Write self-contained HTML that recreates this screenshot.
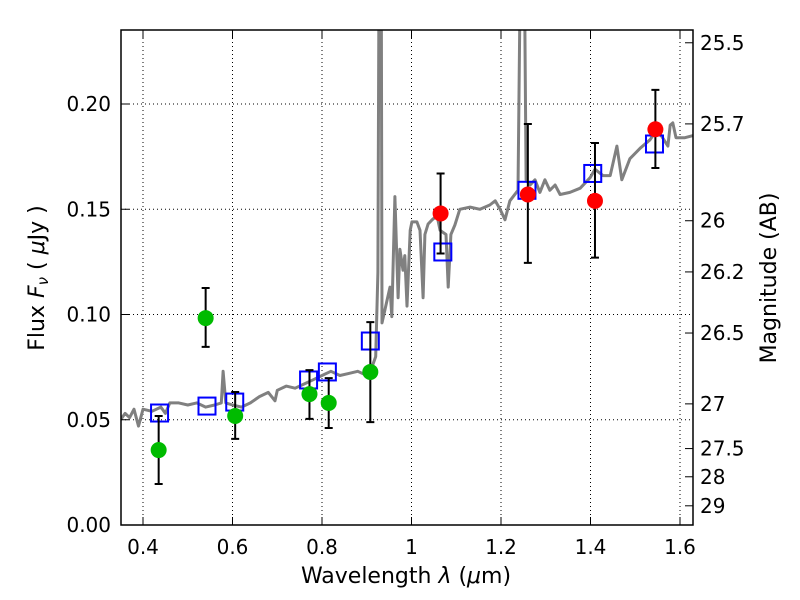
<!DOCTYPE html>
<html><head><meta charset="utf-8"><style>
body{margin:0;background:#fff;}
svg{display:block;font-family:"DejaVu Sans","Liberation Sans",sans-serif;}
</style></head><body>
<svg id="chart" width="800" height="600">
<defs><clipPath id="clip"><rect x="121" y="30" width="572" height="495"/></clipPath></defs>
<g id="grid"></g>
<g id="spec" clip-path="url(#clip)"></g>
<g id="marks" clip-path="url(#clip)"></g>
<rect x="121" y="30" width="572" height="495" fill="none" stroke="#000" stroke-width="1.5"/>
<g id="axes"></g>
<text x="406" y="583" font-size="22" text-anchor="middle">Wavelength  <tspan font-style="italic">λ</tspan> (<tspan font-style="italic">μ</tspan>m)</text>
<text transform="translate(44,278) rotate(-90)" font-size="22" text-anchor="middle">Flux  <tspan font-style="italic">F<tspan font-size="15" dy="4">ν</tspan></tspan><tspan dy="-4">  ( </tspan><tspan font-style="italic">μ</tspan>Jy )</text>
<text transform="translate(776,278) rotate(-90)" font-size="22" text-anchor="middle">Magnitude (AB)</text>
</svg>
<script>
const specLam=[0.35,0.36,0.37,0.38,0.39,0.40,0.42,0.44,0.45,0.46,0.48,0.50,0.52,0.54,0.56,0.575,0.579,0.585,0.60,0.62,0.64,0.66,0.68,0.695,0.70,0.72,0.74,0.76,0.78,0.80,0.82,0.84,0.86,0.88,0.90,0.91,0.92,0.925,0.928,0.932,0.934,0.952,0.956,0.963,0.970,0.974,0.981,0.985,0.990,0.997,1.001,1.012,1.019,1.026,1.030,1.037,1.046,1.057,1.064,1.077,1.082,1.088,1.097,1.108,1.131,1.153,1.175,1.187,1.198,1.209,1.220,1.238,1.245,1.251,1.256,1.265,1.276,1.287,1.298,1.309,1.321,1.332,1.354,1.377,1.399,1.410,1.428,1.444,1.459,1.470,1.488,1.511,1.533,1.549,1.573,1.578,1.584,1.591,1.611,1.629];
const specFlux=[0.050,0.053,0.051,0.055,0.047,0.055,0.054,0.056,0.053,0.058,0.058,0.057,0.058,0.056,0.057,0.058,0.073,0.058,0.057,0.056,0.058,0.061,0.063,0.059,0.064,0.066,0.065,0.067,0.069,0.071,0.073,0.071,0.072,0.073,0.071,0.074,0.080,0.12,0.30,0.30,0.096,0.113,0.099,0.156,0.108,0.131,0.121,0.128,0.104,0.140,0.144,0.144,0.140,0.108,0.138,0.143,0.145,0.147,0.140,0.138,0.113,0.138,0.1425,0.150,0.151,0.150,0.152,0.154,0.150,0.145,0.154,0.159,0.30,0.30,0.164,0.1615,0.164,0.158,0.164,0.159,0.1615,0.157,0.158,0.160,0.165,0.169,0.166,0.166,0.180,0.164,0.174,0.179,0.183,0.188,0.180,0.190,0.191,0.184,0.184,0.185];
const greenLam=[0.435,0.54,0.606,0.772,0.815,0.908];
const greenFlux=[0.0356,0.0983,0.0518,0.0622,0.058,0.0727];
const greenHi=[0.0518,0.1126,0.0632,0.0736,0.0698,0.0964];
const greenLo=[0.0195,0.0846,0.0409,0.0504,0.0461,0.0489];
const redLam=[1.065,1.26,1.41,1.545];
const redFlux=[0.148,0.157,0.154,0.188];
const redHi=[0.167,0.1905,0.1815,0.2067];
const redLo=[0.129,0.1245,0.127,0.1696];
const modelLam=[0.437,0.543,0.605,0.77,0.812,0.908,1.07,1.258,1.405,1.543];
const modelFlux=[0.0532,0.0565,0.0584,0.0689,0.0727,0.0874,0.1297,0.159,0.167,0.181];
const xTicks=[0.4,0.6,0.8,1.0,1.2,1.4,1.6];
const xTickLabels=["0.4","0.6","0.8","1","1.2","1.4","1.6"];
const yTicks=[0,0.05,0.10,0.15,0.20];
const yTickLabels=["0.00","0.05","0.10","0.15","0.20"];
const magTicks=[25.5,25.7,26,26.2,26.5,27,27.5,28,29];
const magLabels=["25.5","25.7","26","26.2","26.5","27","27.5","28","29"];

const X=v=>143+(v-0.4)*447.5;
const Y=v=>525-v*2105;
const NS="http://www.w3.org/2000/svg";
function mk(tag,attrs,parent){const e=document.createElementNS(NS,tag);for(const k in attrs)e.setAttribute(k,attrs[k]);parent.appendChild(e);return e;}
const grid=document.getElementById('grid'),axes=document.getElementById('axes'),spec=document.getElementById('spec'),marks=document.getElementById('marks');

xTicks.forEach((t,i)=>{
  const x=X(t);
  let g=mk('line',{x1:x,x2:x,y1:30,y2:525,stroke:'#000','stroke-width':1,'stroke-dasharray':'1,3'},grid);
  
  
  let tk=mk('line',{x1:x,x2:x,y1:525,y2:517,stroke:'#000','stroke-width':1},axes);
  
  
  let tk2=mk('line',{x1:x,x2:x,y1:30,y2:38,stroke:'#000','stroke-width':1},axes);
  
  
  let l=mk('text',{x:x,y:554,'font-size':20,'text-anchor':'middle'},axes);
  l.textContent=xTickLabels[i];
  
  
});
yTicks.forEach((t,i)=>{
  const y=Y(t);
  if(t>0){let g=mk('line',{x1:121,x2:693,y1:y,y2:y,stroke:'#000','stroke-width':1,'stroke-dasharray':'1,3'},grid);
  
  }
  let tk=mk('line',{x1:121,x2:129,y1:y,y2:y,stroke:'#000','stroke-width':1},axes);
  
  
  let l=mk('text',{x:111,y:y+7,'font-size':20,'text-anchor':'end'},axes);
  l.textContent=yTickLabels[i];
  
  
});
magTicks.forEach((m,i)=>{
  const y=Y(Math.pow(10,(23.9-m)/2.5));
  let tk=mk('line',{x1:685,x2:693,y1:y,y2:y,stroke:'#000','stroke-width':1},axes);
  
  
  let l=mk('text',{x:700,y:y+7,'font-size':20},axes);
  l.textContent=magLabels[i];
  
  
});

let d=specLam.map((v,i)=>(i?'L':'M')+X(v).toFixed(1)+','+Y(specFlux[i]).toFixed(1)).join(' ');
let sp=mk('path',{d:d,fill:'none',stroke:'#808080','stroke-width':3,'stroke-linejoin':'round'},spec);



function errbar(lam,lo,hi){
  const x=X(lam);
  let e=mk('path',{d:`M${x},${Y(lo)}V${Y(hi)}M${x-4},${Y(lo)}h8M${x-4},${Y(hi)}h8`,stroke:'#000','stroke-width':2,fill:'none'},marks);
  
  
}
modelLam.forEach((v,i)=>{
  let r=mk('rect',{x:X(v)-8.5,y:Y(modelFlux[i])-8.5,width:17,height:17,fill:'none',stroke:'#0000ff','stroke-width':2},marks);
  
  
});
greenLam.forEach((v,i)=>{
  errbar(v,greenLo[i],greenHi[i]);
  let c=mk('circle',{cx:X(v),cy:Y(greenFlux[i]),r:8,fill:'#00bb00'},marks);
  
  
});
redLam.forEach((v,i)=>{
  errbar(v,redLo[i],redHi[i]);
  let c=mk('circle',{cx:X(v),cy:Y(redFlux[i]),r:8,fill:'#ff0000'},marks);
  
  
});
</script>
</body></html>
